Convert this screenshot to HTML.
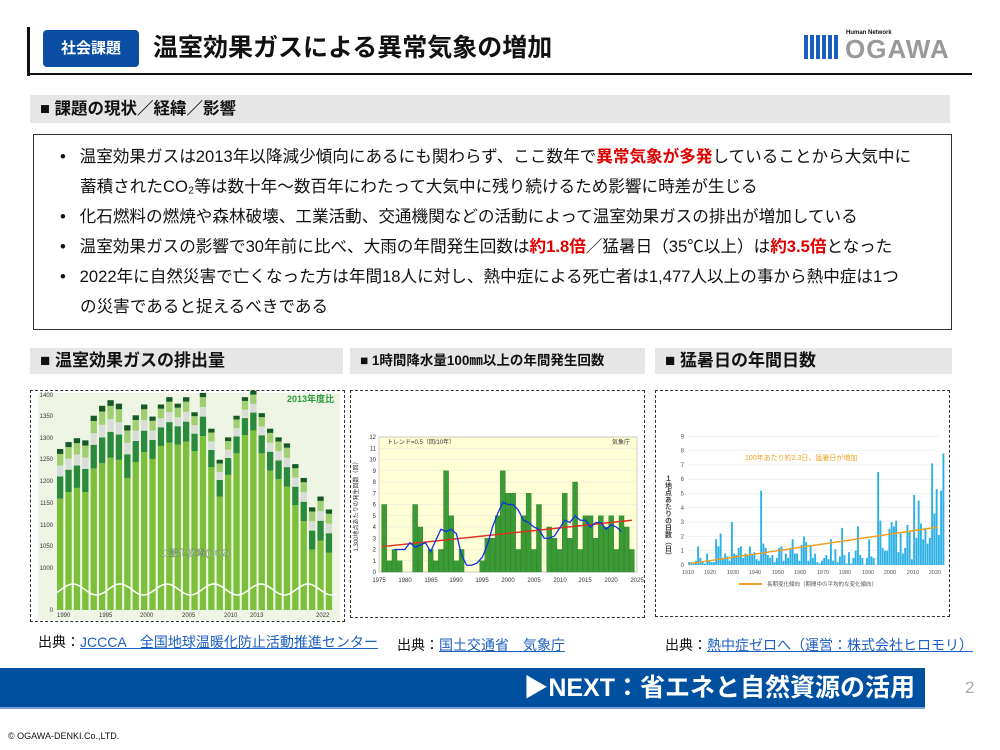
<!DOCTYPE html>
<html><head><meta charset="utf-8">
<style>
*{margin:0;padding:0;box-sizing:border-box}
body{width:1000px;height:750px;background:#fff;position:relative;overflow:hidden;font-family:"Liberation Sans","Noto Sans CJK JP",sans-serif;color:#111}
.a{position:absolute}
.sec{position:absolute;background:#e6e6e6;font-weight:bold;font-size:16.5px;padding-left:10px;line-height:26px}
.box{position:absolute;border:1.5px dashed #333}
.li{position:absolute;left:60px;font-size:16.6px;line-height:30px;white-space:nowrap}
.red{color:#e00000;font-weight:bold}
.src{position:absolute;font-size:14px;top:632px}
.src u{color:#1d5fc0}
</style></head><body>
<div class="a" style="left:27px;top:27px;width:3px;height:49px;background:#111"></div>
<div class="a" style="left:27px;top:73px;width:945px;height:2px;background:#111"></div>
<div class="a" style="left:43px;top:30px;width:96px;height:37px;background:#0a4ea4;border-radius:4px;color:#fff;font-weight:bold;font-size:15px;text-align:center;line-height:37px">社会課題</div>
<div class="a" style="left:153px;top:31px;font-size:25px;font-weight:bold;line-height:34px">温室効果ガスによる異常気象の増加</div>
<div class="a" style="left:804px;top:35px;width:36px;height:24px;background:repeating-linear-gradient(90deg,#1a5fc0 0 4px,#fff 4px 6px)"></div>
<div class="a" style="left:846px;top:30px;font-size:6px;font-weight:bold">Human Network</div>
<div class="a" style="left:845px;top:36px;font-size:26px;font-weight:bold;color:#999;letter-spacing:1px;line-height:26px">OGAWA</div>

<div class="sec" style="left:30px;top:95px;width:920px;height:28px;line-height:28px">■ 課題の現状／経緯／影響</div>
<div class="a" style="left:33px;top:134px;width:919px;height:196px;border:1.3px solid #333"></div>
<div class="li" style="top:142px">•&nbsp;&nbsp;&nbsp;温室効果ガスは2013年以降減少傾向にあるにも関わらず、ここ数年で<span class="red">異常気象が多発</span>していることから大気中に</div>
<div class="li" style="top:172px;left:80px">蓄積されたCO₂等は数十年～数百年にわたって大気中に残り続けるため影響に時差が生じる</div>
<div class="li" style="top:202px">•&nbsp;&nbsp;&nbsp;化石燃料の燃焼や森林破壊、工業活動、交通機関などの活動によって温室効果ガスの排出が増加している</div>
<div class="li" style="top:232px">•&nbsp;&nbsp;&nbsp;温室効果ガスの影響で30年前に比べ、大雨の年間発生回数は<span class="red">約1.8倍</span>／猛暑日（35℃以上）は<span class="red">約3.5倍</span>となった</div>
<div class="li" style="top:262px">•&nbsp;&nbsp;&nbsp;2022年に自然災害で亡くなった方は年間18人に対し、熱中症による死亡者は1,477人以上の事から熱中症は1つ</div>
<div class="li" style="top:292px;left:80px">の災害であると捉えるべきである</div>

<div class="sec" style="left:30px;top:348px;width:313px;font-size:17px">■ 温室効果ガスの排出量</div>
<div class="sec" style="left:350px;top:348px;width:295px;font-size:13.5px">■ 1時間降水量100㎜以上の年間発生回数</div>
<div class="sec" style="left:655px;top:348px;width:297px;font-size:17px">■ 猛暑日の年間日数</div>

<div class="box" style="left:30px;top:390px;width:315px;height:232px"></div>
<div class="box" style="left:350px;top:390px;width:295px;height:228px"></div>
<div class="box" style="left:655px;top:390px;width:295px;height:227px"></div>

<svg class="a" style="left:0;top:0" width="1000" height="750" font-family="Liberation Sans,Noto Sans CJK JP,sans-serif">
<g id="c1"><rect x="38" y="393" width="302" height="227" fill="#eef5e4"/>
<g font-size="6" fill="#333" text-anchor="end">
<text x="53" y="397">1400</text><text x="53" y="418">1350</text><text x="53" y="440">1300</text><text x="53" y="461">1250</text><text x="53" y="483">1200</text><text x="53" y="505">1150</text><text x="53" y="527">1100</text><text x="53" y="548">1050</text><text x="53" y="570">1000</text><text x="53" y="612">0</text></g>
<text x="334" y="402" font-size="9" font-weight="bold" fill="#2a9a3a" text-anchor="end">2013年度比</text>
<g font-size="6" fill="#333"><text x="57" y="617">1990</text><text x="99" y="617">1995</text><text x="140" y="617">2000</text><text x="182" y="617">2005</text><text x="224" y="617">2010</text><text x="250" y="617">2013</text><text x="316" y="617">2022</text></g></g>
<g id="c2"><rect x="379" y="437" width="258" height="135" fill="#ffffd6" stroke="#999" stroke-width="0.5"/>
<g font-size="6" fill="#333" text-anchor="end" id="c2y"></g>
<g font-size="6" fill="#333" text-anchor="middle"><text x="379" y="582">1975</text><text x="405" y="582">1980</text><text x="431" y="582">1985</text><text x="456" y="582">1990</text><text x="482" y="582">1995</text><text x="508" y="582">2000</text><text x="534" y="582">2005</text><text x="560" y="582">2010</text><text x="585" y="582">2015</text><text x="611" y="582">2020</text><text x="637" y="582">2025</text></g>
<text x="387" y="444" font-size="6" fill="#333">トレンド=0.5（回/10年）</text><text x="630" y="444" font-size="6" fill="#333" text-anchor="end">気象庁</text>
<text x="358" y="505" font-size="6" fill="#333" transform="rotate(-90 358 505)" text-anchor="middle">1,300地点あたりの発生回数（回）</text></g>
<g id="c3"><g font-size="6" fill="#555" text-anchor="end" id="c3y"></g>
<g font-size="5.5" fill="#555" text-anchor="middle"><text x="688" y="574">1910</text><text x="710" y="574">1920</text><text x="733" y="574">1930</text><text x="755" y="574">1940</text><text x="778" y="574">1950</text><text x="800" y="574">1960</text><text x="823" y="574">1970</text><text x="845" y="574">1980</text><text x="868" y="574">1990</text><text x="890" y="574">2000</text><text x="913" y="574">2010</text><text x="935" y="574">2020</text></g>
<text x="745" y="460" font-size="7" fill="#f0a020">100年あたり約2.3日、猛暑日が増加</text>
<line x1="739" y1="584" x2="762" y2="584" stroke="#f0a020" stroke-width="2"/>
<text x="767" y="586" font-size="5.5" fill="#555">長期変化傾向（期間中の平均的な変化傾向）</text>
<text x="668" y="475" font-size="7" font-weight="bold" fill="#444" writing-mode="tb">１地点あたりの日数（日）</text></g>
</svg>

<div class="src" style="left:38px">出典：<u>JCCCA　全国地球温暖化防止活動推進センター</u></div>
<div class="src" style="left:397px;top:635px">出典：<u>国土交通省　気象庁</u></div>
<div class="src" style="left:665px;top:635px">出典：<u>熱中症ゼロへ（運営：株式会社ヒロモリ）</u></div>

<div class="a" style="left:0;top:668px;width:925px;height:41px;background:#0050a0;border-bottom:2px solid #7a9fd0"></div>
<div class="a" style="left:450px;top:671px;width:465px;text-align:right;color:#fff;font-weight:bold;font-size:25px;line-height:34px">▶NEXT：省エネと自然資源の活用</div>
<div class="a" style="left:965px;top:678px;color:#aaa;font-size:17px">2</div>
<div class="a" style="left:8px;top:731px;font-size:9px">© OGAWA-DENKI.Co.,LTD.</div>

<script>
const NS="http://www.w3.org/2000/svg";
function el(p,t,a){const e=document.createElementNS(NS,t);for(const k in a)e.setAttribute(k,a[k]);document.getElementById(p).appendChild(e);return e}
const tot=[1275,1291,1300,1295,1352,1375,1388,1380,1330,1353,1378,1350,1378,1395,1380,1395,1360,1405,1322,1250,1302,1352,1395,1410,1358,1322,1302,1288,1240,1208,1140,1165,1135];
const co2=[1160,1175,1185,1175,1230,1242,1255,1250,1208,1245,1268,1252,1282,1290,1285,1292,1270,1305,1233,1165,1215,1265,1307,1318,1265,1225,1205,1188,1145,1108,1042,1063,1035];
const Y1=v=>v<950?610-(v/950)*20:395+(1400-v)*0.432;
for(let i=0;i<33;i++){const x=57+i*8.4;let r=tot[i]-co2[i];
 const seg=[[co2[i],'#7cbf3a'],[0.45*r,'#2a8a3c'],[0.22*r,'#d8ddd8'],[0.23*r,'#9fcf70'],[0.1*r,'#155a25']];
 let prev=0;for(const [h,c] of seg){el('c1','rect',{x:x,y:Y1(prev+h),width:6.3,height:Y1(prev)-Y1(prev+h),fill:c});prev+=h;}}
let pts=[];for(let x=55;x<=338;x+=2)pts.push(x+','+(589.5-5.5*Math.cos((x-73)/47*2*Math.PI)).toFixed(1));
el('c1','polyline',{points:pts.join(' '),fill:'none',stroke:'#fff','stroke-width':1.5});
const t=el('c1','text',{x:195,y:556,'font-size':9,fill:'#fff','text-anchor':'middle',stroke:'#3a6a2a','stroke-width':0.3});t.textContent='二酸化炭素(CO2)';
const X2=y=>379+(y-1975)*5.16,Y2=v=>572-v*11.25;
for(let v=0;v<=12;v++){el('c2y','text',{x:376,y:Y2(v)+2}).textContent=v;if(v>0&&v<12)el('c2','line',{x1:379,x2:637,y1:Y2(v),y2:Y2(v),stroke:'#ddd','stroke-width':0.4});}
const b2=[6,1,2,1,0,0,6,4,0,2,1,2,9,5,1,2,0,0,0,1,3,3,5,9,7,7,2,5,7,2,6,0,4,3,2,7,3,8,2,5,5,3,5,4,5,2,5,4,2];
b2.forEach((v,i)=>{if(v)el('c2','rect',{x:X2(1976+i)-2.5,y:Y2(v),width:5,height:v*11.25,fill:'#3a9a35',stroke:'#2a7a25','stroke-width':0.4})});
el('c2','line',{x1:X2(1975.5),y1:Y2(2.25),x2:X2(2024),y2:Y2(4.6),stroke:'#e03020','stroke-width':1.5});
const bl=[2,2,2,2.6,2.2,2.4,2.6,1.8,2.8,3.8,3.6,3.8,3.4,1.5,0.6,0.6,0.8,1.3,2.4,4.0,5.2,6.2,6.0,6.0,5.5,4.6,4.4,4.0,3.8,3.0,3.0,3.2,3.9,4.6,4.4,5.0,4.6,4.6,4.0,4.4,4.4,3.8,4.2,4.0,3.6];
el('c2','polyline',{points:bl.map((v,i)=>X2(1978+i)+','+Y2(v)).join(' '),fill:'none',stroke:'#1030e0','stroke-width':1.3});
const X3=y=>688+(y-1910)*2.25,Y3=v=>565-v*14.3;
for(let v=0;v<=9;v++){el('c3y','text',{x:684,y:Y3(v)+2}).textContent=v;el('c3','line',{x1:688,x2:940,y1:Y3(v),y2:Y3(v),stroke:'#e4e4e4','stroke-width':0.5});}
const b3=[0.2,0.2,0.1,0.3,1.3,0.5,0.2,0.1,0.8,0.3,0.2,0.2,1.8,1.3,2.2,0.5,0.8,0.6,0.3,3.0,0.8,0.7,1.2,1.3,0.5,0.8,0.7,1.3,0.8,0.9,0.4,0.3,5.2,1.5,1.2,0.7,0.5,0.7,0.2,0.5,1.2,1.3,0.3,0.8,0.5,1.2,1.8,0.8,0.8,0.3,1.4,2.0,1.6,0.3,1.3,0.5,0.8,0.2,0.1,0.3,0.5,0.7,0.4,1.8,0.3,1.1,0.2,0.6,2.6,0.7,0.1,0.9,0.1,0.5,1.0,2.7,0.7,0.5,0,0.5,1.8,0.6,0.5,0,6.5,3.1,1.2,1.0,1.0,2.5,3.0,2.7,3.1,0.9,2.2,0.8,1.2,2.8,2.3,0.4,4.9,1.9,4.5,2.9,1.8,2.6,1.5,1.9,7.1,3.6,5.3,2.1,5.2,7.8];
b3.forEach((v,i)=>{if(v)el('c3','rect',{x:X3(1910+i)+0.2,y:Y3(v),width:1.9,height:v*14.3,fill:'#2cb0e6'})});
el('c3','line',{x1:X3(1911),y1:Y3(0.1),x2:X3(2021),y2:Y3(2.65),stroke:'#f0a020','stroke-width':1.5});
</script>
</body></html>
